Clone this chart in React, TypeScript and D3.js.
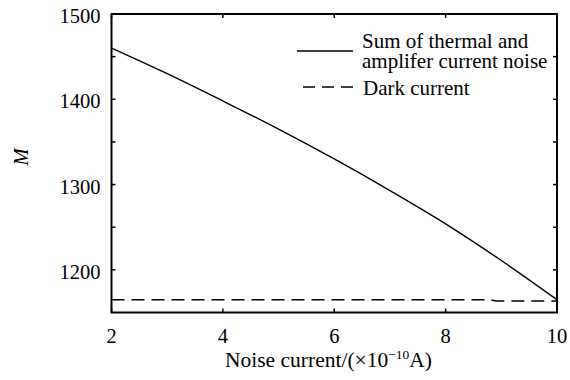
import * as d3 from "d3";

// noise current (x10^-10 A)
const noiseX = [2, 3, 4, 5, 6, 7, 8, 9, 10];
// M for sum of thermal and amplifier current noise
const thermalM = [1460, 1430, 1398, 1365, 1330, 1293, 1254, 1211, 1165];
// M for dark current (nearly flat)
const darkX = [2, 8.8, 8.9, 10];
const darkM = [1165, 1165, 1163.5, 1163.5];

const xTicks = [2, 4, 6, 8, 10];
const yTicks = [1200, 1250, 1300, 1350, 1400, 1450, 1500];
const yLabels = [1200, 1300, 1400, 1500];

const legendLabels = [["Sum of thermal and", "amplifer current noise"], ["Dark current"]];

const W = 570;
const H = 380;
const FONT = "'Liberation Serif', 'Times New Roman', serif";

const left = 111.5, right = 557, top = 14, bottom = 312.5;

export default function App() {
    const x = d3.scaleLinear().domain([2, 10]).range([left, right]);
    const y = d3.scaleLinear().domain([1150, 1500]).range([bottom, top]);

    const smooth = d3.line<[number, number]>()
        .x((d) => x(d[0]))
        .y((d) => y(d[1]))
        .curve(d3.curveMonotoneX);
    const straight = d3.line<[number, number]>()
        .x((d) => x(d[0]))
        .y((d) => y(d[1]));

    const thermalPath = smooth(noiseX.map((v, i) => [v, thermalM[i]] as [number, number])) ?? "";
    const darkPath = straight(darkX.map((v, i) => [v, darkM[i]] as [number, number])) ?? "";

    const tl = 4; // inward tick length

    return (
        <svg
            width={W}
            height={H}
            viewBox={`0 0 ${W} ${H}`}
            style={{ position: "absolute", left: 0, top: 0, background: "#fff", fontFamily: FONT }}
        >
            {/* ticks on all four sides */}
            <g stroke="#000" strokeWidth={1.5}>
                {xTicks.map((t) => (
                    <g key={"x" + t}>
                        <line x1={x(t)} x2={x(t)} y1={bottom} y2={bottom - tl} />
                        <line x1={x(t)} x2={x(t)} y1={top} y2={top + tl} />
                    </g>
                ))}
                {yTicks.map((t) => (
                    <g key={"y" + t}>
                        <line x1={left} x2={left + tl} y1={y(t)} y2={y(t)} />
                        <line x1={right} x2={right - tl} y1={y(t)} y2={y(t)} />
                    </g>
                ))}
            </g>

            {/* series */}
            <path d={thermalPath} fill="none" stroke="#000" strokeWidth={1.4} />
            <path d={darkPath} fill="none" stroke="#000" strokeWidth={1.4} strokeDasharray="13,7" />

            {/* frame */}
            <rect x={left} y={top} width={right - left} height={bottom - top} fill="none" stroke="#000" strokeWidth={2} />

            {/* tick labels */}
            {xTicks.map((t) => (
                <text key={"xl" + t} x={x(t)} y={bottom + 30.5} textAnchor="middle" fontSize={20.5}>
                    {t}
                </text>
            ))}
            {yLabels.map((t) => (
                <text key={"yl" + t} x={left - 11} y={y(t) + 9} textAnchor="end" fontSize={20.5}>
                    {t}
                </text>
            ))}

            {/* axis titles */}
            <text x={225} y={367} fontSize={21.5}>
                <tspan>Noise current/(×10</tspan>
                <tspan dy={-8} fontSize={13.5}>−10</tspan>
                <tspan dy={8}>A)</tspan>
            </text>
            <text
                transform="translate(28, 157) rotate(-90)"
                textAnchor="middle"
                fontSize={21}
                fontStyle="italic"
            >
                M
            </text>

            {/* legend */}
            <g fontSize={21}>
                <line x1={297} x2={353} y1={51} y2={51} stroke="#000" strokeWidth={1.4} />
                <line x1={303} x2={353} y1={87} y2={87} stroke="#000" strokeWidth={1.4} strokeDasharray="12,7" />
                <text x={362} y={47.5}>
                    <tspan x={362}>{legendLabels[0][0]}</tspan>
                    <tspan x={362} dy={20}>{legendLabels[0][1]}</tspan>
                </text>
                <text x={363} y={95}>{legendLabels[1][0]}</text>
            </g>
        </svg>
    );
}
